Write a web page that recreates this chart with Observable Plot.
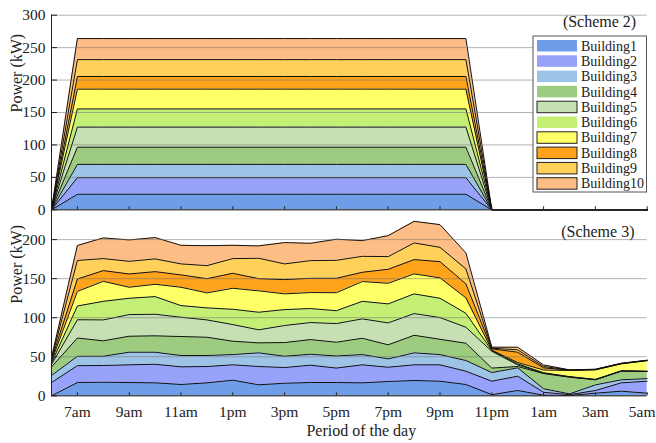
<!DOCTYPE html>
<html>
<head>
<meta charset="utf-8">
<script src="https://cdn.jsdelivr.net/npm/d3@7"></script>
<script src="https://cdn.jsdelivr.net/npm/@observablehq/plot@0.6"></script>
<style>
  body { margin: 0; background: #fff; }
  #chart { position: relative; width: 656px; height: 443px; font-family: "Liberation Serif", "Times New Roman", serif; }
  #chart svg { display: block; overflow: visible; background: transparent; }
</style>
</head>
<body>
<div id="chart"></div>
<script>
// Hour of day (6 = 6am ... 29 = 5am next day)
const hours = [6, 7, 8, 9, 10, 11, 12, 13, 14, 15, 16, 17, 18, 19, 20, 21, 22, 23, 24, 25, 26, 27, 28, 29];
const tickHours = [7, 9, 11, 13, 15, 17, 19, 21, 23, 25, 27, 29];
const tickLabels = ["7am", "9am", "11am", "1pm", "3pm", "5pm", "7pm", "9pm", "11pm", "1am", "3am", "5am"];

const buildings = ["Building1", "Building2", "Building3", "Building4", "Building5",
                   "Building6", "Building7", "Building8", "Building9", "Building10"];
const colors = ["#6f9de8", "#97a2fb", "#9dc3e6", "#9dcb80", "#c6e0b4",
                "#c3ef75", "#ffff66", "#ffa31a", "#ffd05a", "#ffbd86"];

// Scheme 2: fixed power per building while the schedule is on (kW)
const scheme2Level = [24, 25.5, 20.5, 26.5, 31, 28, 30.5, 19.5, 26, 32.5];
const scheme2Schedule = [0, 1, 1, 1, 1, 1, 1, 1, 1, 1, 1, 1, 1, 1, 1, 1, 1, 0, 0, 0, 0, 0, 0, 0];

// Scheme 3: hourly power per building (kW)
const scheme3B1  = [0, 17, 17.4, 17, 16.6, 14.5, 16.6, 20, 14.1, 16.1, 17, 17, 16.6, 18.3, 19.6, 18.7, 14.5, 1.5, 6.8, 0.8, 0.4, 3.4, 5.9, 3.4];
const scheme3B2  = [17, 21.6, 21.4, 22.7, 23.8, 22.6, 20.9, 19.7, 23.4, 20.1, 22.2, 18.5, 23.1, 18.3, 20.1, 21, 17, 17.2, 18.3, 3.7, 1.1, 3.4, 10.7, 15.3];
const scheme3B3  = [9, 12, 11.9, 16.1, 15.4, 14.5, 14.1, 13.1, 17.5, 14.5, 14, 15.5, 13.1, 10.7, 15.3, 13.1, 13.7, 11.1, 10.7, 4.5, 1, 7.2, 3.9, 3.3];
const scheme3B4  = [11, 23.4, 19.7, 20.5, 21, 24.3, 23.4, 17.1, 12.8, 17.5, 18.8, 17.6, 20.9, 18, 22.5, 19.6, 22.1, 5.7, 1.7, 19.5, 21.3, 6.5, 11, 9.1];
const scheme3B5  = [3, 23.4, 26.8, 27.7, 27.6, 24.7, 22.2, 21.3, 16.7, 21.8, 21.8, 23.9, 24.8, 28.1, 27.8, 27.8, 20.5, 21.5, 2.1, 0.5, 0.4, 0.3, 0.3, 0.2];
const scheme3B6  = [2, 17.6, 23.8, 20.9, 22.6, 14.9, 15.4, 19.6, 22.5, 20.4, 17.9, 16.5, 22.5, 24.3, 25.2, 24.7, 17.9, 0.8, 1.3, 0.5, 0.4, 0.2, 0.2, 0.2];
const scheme3B7  = [2, 18.7, 25.6, 14.1, 15.8, 23.5, 19.2, 26.9, 27.4, 20.1, 20.5, 23, 25.3, 26.4, 25.6, 26.1, 19.7, 0.7, 1.7, 3.5, 7.8, 12.2, 8.9, 13.5];
const scheme3B8  = [2, 15.9, 13.7, 17, 16.2, 15.8, 18.2, 19.2, 15.6, 18.3, 18.3, 18.5, 11.9, 17.9, 18.3, 20.8, 17.9, 1.6, 13.2, 2.8, 0.4, 0.3, 0.3, 0.2];
const scheme3B9  = [1.5, 23.7, 15.4, 16.2, 16.3, 14.1, 16.7, 18.8, 26.1, 20.1, 22.6, 23, 20.4, 16.2, 21.4, 18.3, 19.2, 0.9, 3, 1.7, 0.2, 0.3, 0.3, 0.2];
const scheme3B10 = [1.5, 19.2, 26.5, 27.4, 27.3, 23.8, 25.6, 17, 15.9, 27.3, 22.2, 27, 20.1, 26.9, 27.6, 29.1, 20.5, 1.2, 3.4, 2, 0.2, 0.2, 0.2, 0.2];

const scheme3 = [scheme3B1, scheme3B2, scheme3B3, scheme3B4, scheme3B5,
                 scheme3B6, scheme3B7, scheme3B8, scheme3B9, scheme3B10];

// Long-format rows, building by building so the stack keeps Building1 at the bottom
function toRows(valueAt) {
  const rows = [];
  buildings.forEach((b, i) => hours.forEach((h, j) => rows.push({building: b, hour: h, value: valueAt(i, j)})));
  return rows;
}
const rows2 = toRows((i, j) => scheme2Level[i] * scheme2Schedule[j]);
const rows3 = toRows((i, j) => scheme3[i][j]);

const fmtHour = d => tickLabels[tickHours.indexOf(d)];
const font = "Liberation Serif, Times New Roman, serif";
const lastTick = tickHours[tickHours.length - 1];
const innerTicks = tickHours.slice(0, -1);

function panel({rows, height, marginTop, marginBottom, yDomain, yTicks, tag, tagDx, tagDy, showX}) {
  const stack = {x: "hour", y: "value", z: "building"};
  const xLabelStyle = {tickSize: 0, tickPadding: 10, tickFormat: fmtHour, label: null, fontSize: 15.5, fill: "#222"};
  return Plot.plot({
    width: 656,
    height,
    marginLeft: 51,
    marginRight: 9.3,
    marginTop,
    marginBottom,
    style: {fontFamily: font, fontSize: "15.5px", background: "transparent", overflow: "visible", color: "#222"},
    x: {domain: [6, 29]},
    y: {domain: yDomain},
    color: {domain: buildings, range: colors},
    marks: [
      Plot.areaY(rows, Plot.stackY({...stack, fill: "building"})),
      Plot.lineY(rows, Plot.stackY2({...stack, stroke: "#111", strokeWidth: 1})),
      Plot.gridY(yTicks, {stroke: "#777", strokeOpacity: 0.55, strokeWidth: 1}),
      Plot.ruleX([6], {stroke: "#222"}),
      Plot.ruleY([0], {stroke: "#222"}),
      Plot.axisY({ticks: yTicks, tickSize: -6, text: null, label: null, stroke: "#222"}),
      Plot.axisY({ticks: yTicks, tickSize: 0, tickPadding: 6, label: null, fontSize: 15.5, fill: "#222"}),
      Plot.axisX({ticks: tickHours, tickSize: -3, text: null, label: null, stroke: "#222"}),
      // the last hour label is nudged left so it stays inside the figure
      showX ? Plot.axisX({...xLabelStyle, ticks: innerTicks}) : null,
      showX ? Plot.axisX({...xLabelStyle, ticks: [lastTick], dx: -5}) : null,
      Plot.text(["Power (kW)"], {frameAnchor: "left", rotate: -90, dx: -35, fontSize: 16, fill: "#222"}),
      Plot.text([tag], {frameAnchor: "top-right", textAnchor: "end", lineAnchor: "middle", dx: tagDx, dy: tagDy, fontSize: 16, fill: "#222"}),
      showX ? Plot.text(["Period of the day"], {frameAnchor: "bottom", lineAnchor: "bottom", dx: 12, dy: 40, fontSize: 16, fill: "#222"}) : null
    ]
  });
}

const chart = document.getElementById("chart");
chart.append(panel({rows: rows2, height: 211, marginTop: 14.7, marginBottom: 1.7,
  yDomain: [0, 300], yTicks: [0, 50, 100, 150, 200, 250, 300],
  tag: "(Scheme 2)", tagDx: -11, tagDy: 6.5, showX: false}));
chart.append(panel({rows: rows3, height: 232, marginTop: 0, marginBottom: 47.7,
  yDomain: [0, 236], yTicks: [0, 50, 100, 150, 200],
  tag: "(Scheme 3)", tagDx: -12.7, tagDy: 20, showX: true}));

// Legend box in the upper panel
const legend = d3.select(chart).append("svg")
  .attr("width", 656).attr("height", 443)
  .style("position", "absolute").style("left", "0px").style("top", "0px")
  .style("pointer-events", "none");
legend.append("rect")
  .attr("x", 533).attr("y", 36).attr("width", 113.5).attr("height", 156)
  .attr("fill", "white").attr("stroke", "#555").attr("stroke-width", 1);
const outlined = new Set(["Building5", "Building7", "Building8", "Building9", "Building10"]);
buildings.forEach((b, i) => {
  const y = 40 + i * 15.3;
  legend.append("rect")
    .attr("x", 537).attr("y", y).attr("width", 40).attr("height", 11.5)
    .attr("fill", colors[i])
    .attr("stroke", outlined.has(b) ? "#222" : "none").attr("stroke-width", 1);
  legend.append("text")
    .attr("x", 581).attr("y", y + 10.6)
    .attr("font-family", font).attr("font-size", 14).attr("fill", "#222")
    .text(b);
});
</script>
</body>
</html>
